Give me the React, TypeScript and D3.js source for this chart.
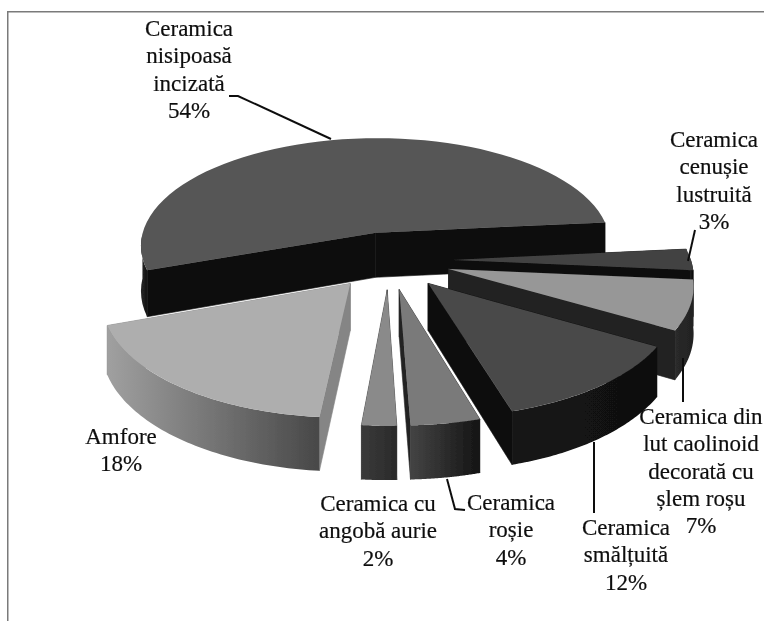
import React from 'react';
import * as d3 from 'd3';

const WIDTH = 764;
const HEIGHT = 621;

const categories = [
  ['Ceramica', 'nisipoasă', 'incizată'],
  ['Ceramica', 'cenușie', 'lustruită'],
  ['Ceramica din', 'lut caolinoid', 'decorată cu', 'șlem roșu'],
  ['Ceramica', 'smălțuită'],
  ['Ceramica', 'roșie'],
  ['Ceramica cu', 'angobă aurie'],
  ['Amfore'],
];
const shares = [54, 3, 7, 12, 4, 2, 18];

// culori: fata de sus, perete radial, perete exterior (stanga -> dreapta)
const topColors = ['#565656', '#434343', '#979797', '#4a4a4a', '#7a7a7a', '#8a8a8a', '#aeaeae'];
const sideColors = ['#111111', '#0a0a0a', '#222222', '#111111', '#222222', '#333333', '#858585'];
const wallColors = [
  ['#2a2a2a', '#111111'],
  ['#222222', '#0a0a0a'],
  ['#2a2a2a', '#222222'],
  ['#141414', '#101010'],
  ['#444444', '#141414'],
  ['#3a3a3a', '#2a2a2a'],
  ['#a0a0a0', '#484848'],
];
const drawOrder = [0, 1, 2, 3, 6, 5, 4];

// pozitia etichetelor: centru x, prima linie de baza
const labelX = [189, 714, 701, 626, 511, 378, 121];
const labelY = [36, 147, 424, 535, 510, 511, 444];
const lineGap = 27.3;

const leaderLines: [number, number][][] = [
  [[229, 96], [238, 96], [331, 139]],
  [[688, 261], [695, 230]],
  [[683, 358], [683, 402]],
  [[594, 442], [594, 513]],
  [[447, 479], [455, 509], [465, 510]],
];

// geometria plăcintei
const cx = 389;
const cy = 260;
const rx = 240;
const ry = 112;
const depth = 46;
const explode = 0.258;
const persp = 0.12;

const pie = d3.pie<number>().sort(null)
  .startAngle((-110 * Math.PI) / 180)
  .endAngle((250 * Math.PI) / 180);

const project = (x: number, y: number, down = 0): [number, number] => {
  const s = 1 / (1 - persp * y);
  return [cx + rx * x * s, cy + ry * y * s + down * s];
};

const line = d3.line();

export default function App() {
  const arcs = pie(shares);

  const slices = arcs.map((a, i) => {
    const mid = (a.startAngle + a.endAngle) / 2;
    const ox = explode * Math.sin(mid);
    const oy = -explode * Math.cos(mid);
    const angles = d3.range(0, 61).map(k => a.startAngle + ((a.endAngle - a.startAngle) * k) / 60);
    const rim = angles.map(t => [ox + Math.sin(t), oy - Math.cos(t)] as [number, number]);
    const apex: [number, number] = [ox, oy];

    const top = line([project(apex[0], apex[1]), ...rim.map(p => project(p[0], p[1]))]) + 'Z';
    const radial = (p: [number, number]) => [
      project(apex[0], apex[1]),
      project(p[0], p[1]),
      project(p[0], p[1], depth),
      project(apex[0], apex[1], depth),
    ];
    const walls = [radial(rim[0]), radial(rim[rim.length - 1])]
      .sort((w1, w2) => d3.sum(w1, p => p[1]) - d3.sum(w2, p => p[1]))
      .map(w => line(w) + 'Z');
    const front = rim.filter(p => p[1] > oy - 0.02);
    const outer = front.length > 1
      ? line([
          ...front.map(p => project(p[0], p[1])),
          ...front.slice().reverse().map(p => project(p[0], p[1], depth)),
        ]) + 'Z'
      : null;
    return { i, top, walls, outer };
  });

  return (
    <svg
      width={WIDTH}
      height={HEIGHT}
      style={{ position: 'absolute', left: 0, top: 0, background: '#fff' }}
    >
      <defs>
        {wallColors.map((c, i) => (
          <linearGradient key={i} id={`wall${i}`} gradientUnits="objectBoundingBox">
            <stop offset="0" stopColor={c[0]} />
            <stop offset="1" stopColor={c[1]} />
          </linearGradient>
        ))}
        <filter id="soft" x="0" y="0" width="100%" height="100%">
          <feGaussianBlur stdDeviation="0.5" />
        </filter>
      </defs>
      <g filter="url(#soft)">
        <path d={`M7.5,621V11.5H764`} fill="none" stroke="#7a7a7a" strokeWidth={2} />
        {drawOrder.map(k => {
          const s = slices[k];
          return (
            <g key={k}>
              {s.walls.map((d, j) => (
                <path key={j} d={d} fill={sideColors[k]} stroke={sideColors[k]} strokeWidth={0.6} />
              ))}
              {s.outer && <path d={s.outer} fill={`url(#wall${k})`} />}
              <path d={s.top} fill={topColors[k]} />
            </g>
          );
        })}
        {leaderLines.map((pts, i) => (
          <path key={i} d={line(pts) as string} fill="none" stroke="#111" strokeWidth={2} />
        ))}
        {categories.map((lines, i) => (
          <text
            key={i}
            textAnchor="middle"
            fontFamily="'Liberation Serif', serif"
            fontSize={23}
            fill="#111"
            stroke="#111"
            strokeWidth={0.2}
          >
            {[...lines, `${shares[i]}%`].map((t, j) => (
              <tspan key={j} x={labelX[i]} y={labelY[i] + j * lineGap}>{t}</tspan>
            ))}
          </text>
        ))}
      </g>
    </svg>
  );
}
